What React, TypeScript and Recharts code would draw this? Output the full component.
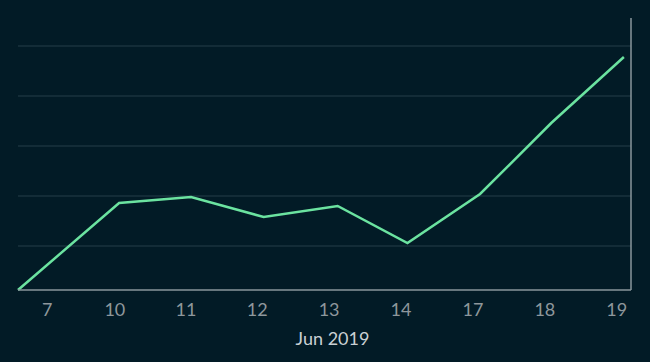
import { LineChart, Line, XAxis, YAxis, CartesianGrid } from 'recharts';

// day labels on the x axis (Jun 2019, trading days only)
const dayLabels = ['7', '10', '11', '12', '13', '14', '17', '18', '19'];
// where each day tick sits, in day-index units
const tickPositions = [0, 0.95, 1.95, 2.95, 3.96, 4.97, 5.98, 6.99, 8];

// series
const pointTimes = [-0.41, 1.01, 2.02, 3.04, 4.08, 5.06, 6.08, 7.08, 8.1];
const pointValues = [0, 87, 93, 73, 84, 47, 96, 167, 233];

const gridValues = [44, 94, 144, 194, 244];

const data = pointTimes.map((t, i) => ({ t, value: pointValues[i] }));

const BG = '#021b26';
const AXIS = '#8a979d';

export default function App() {
  return (
    <div style={{ position: 'absolute', left: 0, top: 0, width: 650, height: 362, background: BG }}>
      <LineChart
        width={650}
        height={362}
        data={data}
        margin={{ top: 18, right: 18, bottom: 0, left: 18 }}
        style={{ fontFamily: 'Lato, sans-serif' }}
      >
        <CartesianGrid vertical={false} syncWithTicks stroke="#1a333e" strokeWidth={1.5} />
        <XAxis
          dataKey="t"
          type="number"
          domain={[-0.41, 8.2]}
          ticks={tickPositions}
          interval={0}
          tickFormatter={(_v: number, i: number) => dayLabels[i]}
          height={72}
          tickSize={0}
          tickMargin={13}
          tickLine={false}
          axisLine={{ stroke: AXIS, strokeWidth: 1.5 }}
          tick={{ fill: '#8e979c', fontSize: 18 }}
          label={{ value: 'Jun 2019', position: 'insideBottom', offset: 17, dx: 8, fill: '#c9d0d3', fontSize: 18 }}
        />
        <YAxis
          orientation="right"
          type="number"
          domain={[0, 272]}
          ticks={gridValues}
          interval={0}
          width={1}
          tickSize={0}
          tickLine={false}
          tick={{ fill: 'transparent', fontSize: 1 }}
          axisLine={{ stroke: AXIS, strokeWidth: 1.5 }}
        />
        <Line
          type="linear"
          dataKey="value"
          stroke="#6be3a0"
          strokeWidth={2.5}
          dot={false}
          activeDot={false}
          isAnimationActive={false}
        />
      </LineChart>
    </div>
  );
}
